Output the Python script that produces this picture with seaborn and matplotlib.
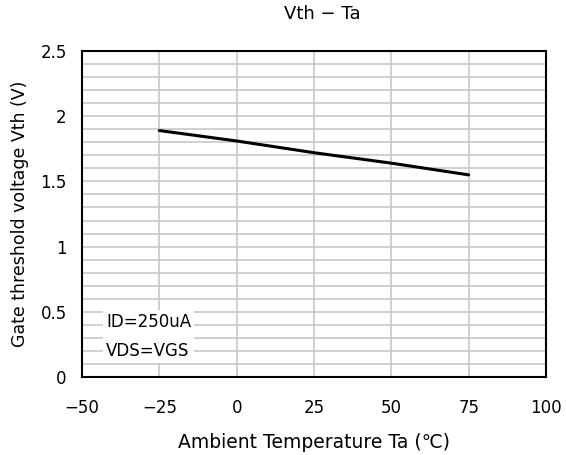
import matplotlib
matplotlib.use("Agg")
import matplotlib.pyplot as plt
import seaborn as sns
import numpy as np
import pandas as pd

temps = [-25, 0, 25, 50, 75]
vth = [1.89, 1.81, 1.72, 1.64, 1.55]
xticks = [-50, -25, 0, 25, 50, 75, 100]
yticks = [0, 0.5, 1, 1.5, 2, 2.5]
yticklabels = ["0", "0.5", "1", "1.5", "2", "2.5"]

sns.set_style("white")
plt.rcParams['font.family'] = ['DejaVu Sans', 'Noto Sans CJK JP']
plt.rcParams['axes.unicode_minus'] = True
plt.rcParams['text.color'] = 'black'
plt.rcParams['axes.labelcolor'] = 'black'
plt.rcParams['xtick.color'] = 'black'
plt.rcParams['ytick.color'] = 'black'

df = pd.DataFrame({"Ta": temps, "Vth": vth})

fig = plt.figure(figsize=(5.66, 4.55), dpi=100)
ax = fig.add_axes([82/566, 1 - 377/455, (546-82)/566, (377-51)/455])

for y in np.arange(0.1, 2.5, 0.1):
    ax.axhline(y, color="#c8c8c8", lw=1.2, zorder=0)
for x in xticks[1:-1]:
    ax.axvline(x, color="#c8c8c8", lw=1.2, zorder=0)

sns.lineplot(data=df, x="Ta", y="Vth", ax=ax, color="black", lw=2.2, zorder=3)

ax.set_xlim(-50, 100)
ax.set_ylim(0, 2.5)
ax.set_xticks(xticks)
ax.set_xticklabels([str(v).replace("-", "\u2212") for v in xticks])
ax.set_yticks(yticks)
ax.set_yticklabels(yticklabels)
ax.tick_params(axis="x", length=0, labelsize=12, pad=16)
ax.tick_params(axis="y", length=0, labelsize=12, pad=11)
for s in ax.spines.values():
    s.set_color("black")
    s.set_linewidth(1.5)

ax.set_xlabel("Ambient Temperature Ta (\u2103)", fontsize=13.5, labelpad=11)
ax.set_ylabel("Gate threshold voltage Vth (V)", fontsize=12.5, labelpad=8)
fig.text(322/566, 1 - 14/455, "Vth \u2212 Ta", ha="center", va="center", fontsize=13)

ax.text(-42.2, 0.31, "ID=250uA\nVDS=VGS", fontsize=12, ha="left", va="center",
        linespacing=1.75, zorder=4,
        bbox=dict(facecolor="white", edgecolor="none", pad=2))

fig.savefig("out.png", dpi=100)
